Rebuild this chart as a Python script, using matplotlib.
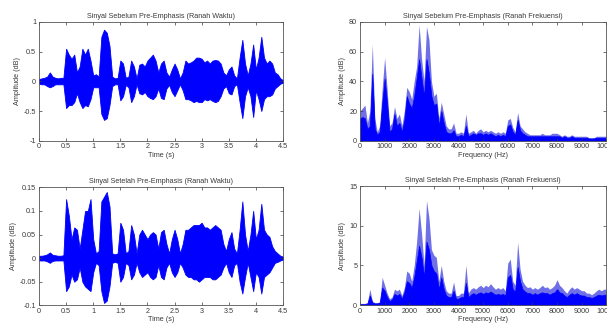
import matplotlib
matplotlib.use("Agg")
import matplotlib.pyplot as plt
import numpy as np

plt.rcParams['font.family'] = ['Liberation Sans', 'DejaVu Sans']
plt.rcParams['axes.unicode_minus'] = False

# ---------------- data ----------------
# time grid (s), 0.05 s steps
time_s = [round(0.05 * i, 2) for i in range(91)]

pre_time_upper = [0.04, 0.05, 0.06, 0.08, 0.15, 0.08, 0.06, 0.05, 0.06, 0.06,
                  0.55, 0.45, 0.38, 0.45, 0.15, 0.25, 0.55, 0.45, 0.55, 0.35,
                  0.10, 0.12, 0.08, 0.75, 0.87, 0.82, 0.60, 0.08, 0.05, 0.06,
                  0.35, 0.30, 0.06, 0.08, 0.35, 0.25, 0.05, 0.28, 0.30, 0.25,
                  0.35, 0.40, 0.45, 0.35, 0.15, 0.30, 0.35, 0.15, 0.08, 0.20,
                  0.30, 0.20, 0.05, 0.15, 0.35, 0.30, 0.32, 0.35, 0.40, 0.40,
                  0.38, 0.32, 0.35, 0.30, 0.35, 0.36, 0.35, 0.30, 0.15, 0.10,
                  0.20, 0.25, 0.10, 0.05, 0.40, 0.70, 0.30, 0.10, 0.30, 0.62,
                  0.20, 0.40, 0.75, 0.40, 0.30, 0.35, 0.30, 0.15, 0.12, 0.05,
                  0.02]
pre_time_lower = [-0.04, -0.05, -0.05, -0.08, -0.10, -0.08, -0.05, -0.05, -0.05, -0.05,
                  -0.45, -0.40, -0.40, -0.35, -0.20, -0.35, -0.45, -0.40, -0.42, -0.30,
                  -0.10, -0.10, -0.10, -0.55, -0.65, -0.62, -0.40, -0.08, -0.05, -0.05,
                  -0.32, -0.25, -0.06, -0.10, -0.35, -0.25, -0.05, -0.20, -0.22, -0.18,
                  -0.25, -0.28, -0.30, -0.25, -0.12, -0.28, -0.30, -0.12, -0.06, -0.18,
                  -0.25, -0.15, -0.05, -0.15, -0.30, -0.30, -0.32, -0.35, -0.33, -0.35,
                  -0.35, -0.30, -0.32, -0.30, -0.33, -0.35, -0.33, -0.25, -0.12, -0.08,
                  -0.20, -0.22, -0.08, -0.05, -0.35, -0.62, -0.25, -0.10, -0.25, -0.60,
                  -0.15, -0.30, -0.50, -0.30, -0.25, -0.25, -0.22, -0.12, -0.08, -0.04,
                  -0.02]

post_time_upper = [0.005, 0.005, 0.006, 0.008, 0.012, 0.007, 0.006, 0.005, 0.005, 0.006,
                   0.125, 0.09, 0.04, 0.065, 0.06, 0.02, 0.06, 0.10, 0.10, 0.125,
                   0.04, 0.01, 0.015, 0.12, 0.13, 0.14, 0.11, 0.01, 0.008, 0.01,
                   0.075, 0.06, 0.01, 0.015, 0.07, 0.05, 0.01, 0.05, 0.06, 0.05,
                   0.04, 0.05, 0.055, 0.05, 0.02, 0.055, 0.06, 0.03, 0.01, 0.04,
                   0.06, 0.04, 0.01, 0.03, 0.06, 0.06, 0.065, 0.07, 0.07, 0.07,
                   0.075, 0.065, 0.065, 0.06, 0.065, 0.07, 0.065, 0.06, 0.03, 0.015,
                   0.04, 0.055, 0.02, 0.01, 0.06, 0.12, 0.05, 0.015, 0.05, 0.10,
                   0.04, 0.06, 0.115, 0.06, 0.05, 0.045, 0.025, 0.015, 0.01, 0.005,
                   0.003]
post_time_lower = [-0.005, -0.005, -0.005, -0.007, -0.010, -0.006, -0.005, -0.005, -0.005, -0.005,
                   -0.07, -0.06, -0.035, -0.05, -0.045, -0.02, -0.05, -0.06, -0.065, -0.07,
                   -0.03, -0.01, -0.015, -0.07, -0.095, -0.09, -0.06, -0.01, -0.008, -0.01,
                   -0.05, -0.04, -0.01, -0.015, -0.045, -0.035, -0.01, -0.03, -0.04, -0.035,
                   -0.03, -0.04, -0.045, -0.04, -0.015, -0.04, -0.045, -0.02, -0.01, -0.03,
                   -0.04, -0.03, -0.01, -0.02, -0.035, -0.04, -0.04, -0.045, -0.045, -0.05,
                   -0.045, -0.04, -0.04, -0.04, -0.045, -0.045, -0.04, -0.035, -0.02, -0.01,
                   -0.03, -0.04, -0.015, -0.01, -0.05, -0.075, -0.04, -0.01, -0.04, -0.07,
                   -0.03, -0.04, -0.075, -0.04, -0.035, -0.03, -0.02, -0.01, -0.008, -0.005,
                   -0.003]

# frequency grid (Hz), 100 Hz steps
freq_hz = [100 * i for i in range(101)]

pre_freq_peak = [20, 22, 24, 12, 20, 65, 15, 6, 10, 35,
                 56, 35, 10, 12, 23, 15, 18, 10, 20, 36,
                 33, 28, 40, 50, 78, 55, 40, 77, 68, 40,
                 30, 32, 15, 26, 18, 10, 8, 8, 12, 5,
                 5, 6, 5, 18, 5, 6, 7, 5, 7, 8,
                 6, 7, 6, 7, 6, 5, 6, 5, 6, 5,
                 14, 15, 9, 6, 19, 10, 8, 6, 5, 4,
                 4, 4, 4, 4, 5, 4, 4, 4, 5, 5,
                 5, 4, 3, 4, 3, 3, 4, 3, 3, 3,
                 3, 3, 3, 2, 2, 2, 3, 3, 3, 3,
                 3]
pre_freq_body = [15, 16, 15, 8, 10, 45, 8, 4, 6, 25,
                 42, 25, 6, 8, 18, 10, 12, 6, 14, 30,
                 25, 22, 30, 42, 55, 42, 30, 55, 45, 30,
                 24, 25, 10, 20, 12, 6, 5, 5, 7, 3,
                 3, 4, 3, 10, 3, 4, 5, 4, 5, 5,
                 4, 5, 4, 5, 4, 3, 4, 3, 4, 3,
                 10, 11, 6, 4, 14, 7, 5, 4, 3, 3,
                 3, 3, 3, 3, 3, 3, 3, 3, 3, 3,
                 3, 3, 2, 3, 2, 2, 3, 2, 2, 2,
                 2, 2, 2, 1.5, 1.5, 1.5, 2, 2, 2, 2,
                 2]

post_freq_peak = [0.2, 0.2, 0.2, 0.3, 2.0, 0.5, 0.3, 0.3, 0.4, 3.5,
                  2.5, 1.5, 0.8, 1.0, 2.0, 1.8, 2.0, 1.2, 2.2, 4.3,
                  4.0, 3.0, 5.0, 8.0, 12.2, 9.0, 5.0, 13.2, 11.0, 7.0,
                  6.3, 6.0, 3.0, 5.0, 3.0, 1.8, 1.5, 1.5, 2.9, 1.2,
                  1.2, 1.5, 1.5, 5.0, 1.5, 2.0, 2.2, 2.0, 2.3, 2.5,
                  2.2, 2.5, 2.3, 2.7, 2.3, 2.0, 2.2, 2.0, 2.2, 1.8,
                  5.3, 5.8, 3.0, 2.5, 7.9, 4.5, 3.0, 2.5, 2.2, 2.3,
                  2.0, 2.2, 2.0, 2.2, 2.5, 2.2, 2.3, 2.0, 2.2, 2.5,
                  3.2, 2.5, 2.2, 1.8, 1.5, 2.0, 2.3, 2.0, 2.2, 2.0,
                  1.8, 1.8, 1.5, 1.5, 1.3, 1.5, 1.8, 2.0, 1.8, 2.0,
                  2.0]
post_freq_body = [0.1, 0.1, 0.1, 0.2, 1.2, 0.3, 0.2, 0.2, 0.3, 2.2,
                  1.8, 1.0, 0.5, 0.7, 1.4, 1.2, 1.4, 0.8, 1.6, 3.0,
                  2.8, 2.2, 3.5, 5.5, 7.5, 6.0, 3.5, 8.0, 7.0, 5.0,
                  4.3, 4.0, 2.0, 3.5, 2.0, 1.2, 1.0, 1.0, 1.8, 0.8,
                  0.8, 1.0, 1.0, 2.8, 1.0, 1.3, 1.5, 1.3, 1.5, 1.6,
                  1.4, 1.6, 1.5, 1.7, 1.5, 1.3, 1.4, 1.3, 1.4, 1.2,
                  3.5, 3.8, 2.0, 1.7, 4.8, 3.0, 2.0, 1.7, 1.5, 1.5,
                  1.3, 1.5, 1.3, 1.5, 1.6, 1.5, 1.5, 1.3, 1.5, 1.6,
                  2.0, 1.6, 1.5, 1.2, 1.0, 1.3, 1.5, 1.3, 1.5, 1.3,
                  1.2, 1.2, 1.0, 1.0, 0.9, 1.0, 1.2, 1.3, 1.2, 1.3,
                  1.3]

titles = ["Sinyal Sebelum Pre-Emphasis (Ranah Waktu)",
          "Sinyal Sebelum Pre-Emphasis (Ranah Frekuensi)",
          "Sinyal Setelah Pre-Emphasis (Ranah Waktu)",
          "Sinyal Setelah Pre-Emphasis (Ranah Frekuensi)"]

time_ticks = [0, 0.5, 1, 1.5, 2, 2.5, 3, 3.5, 4, 4.5]
time_ticklabels = ["0", "0.5", "1", "1.5", "2", "2.5", "3", "3.5", "4", "4.5"]
freq_ticks = [0, 1000, 2000, 3000, 4000, 5000, 6000, 7000, 8000, 9000, 10000]
pre_time_yticks = [-1, -0.5, 0, 0.5, 1]
pre_time_ylabels = ["-1", "-0.5", "0", "0.5", "1"]
post_time_yticks = [-0.1, -0.05, 0, 0.05, 0.1, 0.15]
post_time_ylabels = ["-0.1", "-0.05", "0", "0.05", "0.1", "0.15"]
pre_freq_yticks = [0, 20, 40, 60, 80]
post_freq_yticks = [0, 5, 10, 15]

# ---------------- drawing ----------------
W, H = 607, 327
fig = plt.figure(figsize=(W / 100, H / 100), dpi=100)
BLUE = "#0000ff"
TXT = "#3a3a3a"
FS = 5.2


def px_axes(l, t, r, b):
    return fig.add_axes([l / W, 1 - b / H, (r - l) / W, (b - t) / H])


def style(ax, title, xlabel):
    ax.set_title(title, fontsize=FS, color=TXT, pad=3)
    ax.set_xlabel(xlabel, fontsize=FS, color=TXT, labelpad=1)
    ax.set_ylabel("Amplitude (dB)", fontsize=FS, color=TXT, labelpad=2)
    ax.tick_params(direction="in", length=2.5, width=0.5, labelsize=FS,
                   colors=TXT, top=True, right=True, pad=2)
    for s in ax.spines.values():
        s.set_linewidth(0.6)
        s.set_color("#555555")


ax1 = px_axes(39, 22, 283, 140.7)
ax1.fill_between(time_s, pre_time_lower, pre_time_upper, color=BLUE, lw=0.6)
ax1.set_xlim(0, 4.5)
ax1.set_ylim(-1, 1)
ax1.set_xticks(time_ticks, time_ticklabels)
ax1.set_yticks(pre_time_yticks, pre_time_ylabels)
style(ax1, titles[0], "Time (s)")

ax3 = px_axes(39, 187.3, 283, 305.3)
ax3.fill_between(time_s, post_time_lower, post_time_upper, color=BLUE, lw=0.6)
ax3.set_xlim(0, 4.5)
ax3.set_ylim(-0.1, 0.15)
ax3.set_xticks(time_ticks, time_ticklabels)
ax3.set_yticks(post_time_yticks, post_time_ylabels)
style(ax3, titles[2], "Time (s)")

ax2 = px_axes(360, 22, 606.3, 140.7)
ax2.fill_between(freq_hz, 0, pre_freq_peak, color="#6f6fe8", lw=0)
ax2.fill_between(freq_hz, 0, pre_freq_body, color=BLUE, lw=0.5)
ax2.set_xlim(0, 10000)
ax2.set_ylim(0, 80)
ax2.set_xticks(freq_ticks, [str(v) for v in freq_ticks])
ax2.set_yticks(pre_freq_yticks, [str(v) for v in pre_freq_yticks])
style(ax2, titles[1], "Frequency (Hz)")

ax4 = px_axes(360, 186.3, 606.3, 305)
ax4.fill_between(freq_hz, 0, post_freq_peak, color="#6f6fe8", lw=0)
ax4.fill_between(freq_hz, 0, post_freq_body, color=BLUE, lw=0.5)
ax4.set_xlim(0, 10000)
ax4.set_ylim(0, 15)
ax4.set_xticks(freq_ticks, [str(v) for v in freq_ticks])
ax4.set_yticks(post_freq_yticks, [str(v) for v in post_freq_yticks])
style(ax4, titles[3], "Frequency (Hz)")

fig.savefig("out.png", dpi=100)
